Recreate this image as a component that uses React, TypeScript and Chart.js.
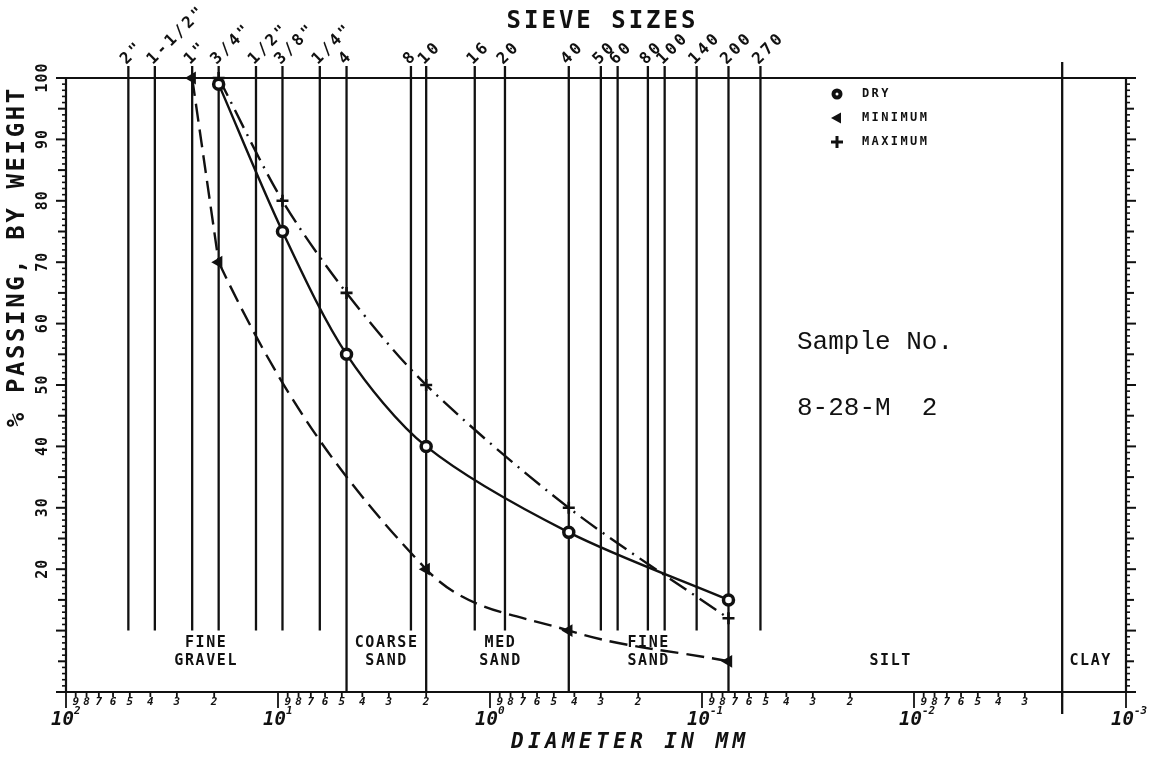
import React, { useEffect, useRef } from "react";
import { Chart, registerables } from "chart.js";

Chart.register(...registerables);

// ---------- data ----------
const sieveLabels = ['2"', '1-1/2"', '1"', '3/4"', '1/2"', '3/8"', '1/4"', "4", "8", "10", "16", "20", "40", "50", "60", "80", "100", "140", "200", "270"];
const sieveMm = [50.8, 38.1, 25.4, 19.05, 12.7, 9.525, 6.35, 4.75, 2.36, 2.0, 1.18, 0.85, 0.425, 0.3, 0.25, 0.18, 0.15, 0.106, 0.075, 0.053];
const boundaryMm = [4.75, 2.0, 0.425, 0.075];
const clayMm = 0.002;

const dryMm = [19.05, 9.525, 4.75, 2.0, 0.425, 0.075];
const dryPct = [99, 75, 55, 40, 26, 15];
const minMm = [25.4, 19.05, 2.0, 0.425, 0.075];
const minPct = [100, 70, 20, 10, 5];
const maxMm = [19.05, 9.525, 4.75, 2.0, 0.425, 0.075];
const maxPct = [100, 80, 65, 50, 30, 12];

const yTickLabels = [20, 30, 40, 50, 60, 70, 80, 90, 100];
const decadeExponents = [2, 1, 0, -1, -2, -3];
const zoneTop = ["FINE", "COARSE", "MED", "FINE", "", ""];
const zoneBottom = ["GRAVEL", "SAND", "SAND", "SAND", "SILT", "CLAY"];
const zoneAtMm = [22, 3.1, 0.9, 0.18, 0.013, 0.00148];
const legendNames = ["DRY", "MINIMUM", "MAXIMUM"];
const sampleLines = ["Sample No.", "8-28-M  2"];

const INK = "#111";
const MONO = '"DejaVu Sans Mono", monospace';
const MIN_DASH = [18, 8];
const MAX_DASH = [20, 7, 2, 7];

function txt(ctx: CanvasRenderingContext2D, s: string, x: number, y: number, font: string, align: CanvasTextAlign, spacing: number, rot = 0) {
  ctx.save();
  ctx.translate(x, y);
  if (rot) ctx.rotate(rot);
  ctx.font = font;
  (ctx as any).letterSpacing = spacing + "px";
  ctx.textAlign = "left";
  ctx.textBaseline = "middle";
  const w = ctx.measureText(s).width - spacing;
  let sx = 0;
  if (align === "center") sx = -w / 2;
  else if (align === "right") sx = -w;
  ctx.fillStyle = INK;
  ctx.fillText(s, sx, 0);
  ctx.restore();
}

function seg(ctx: CanvasRenderingContext2D, x1: number, y1: number, x2: number, y2: number) {
  ctx.beginPath();
  ctx.moveTo(x1, y1);
  ctx.lineTo(x2, y2);
  ctx.stroke();
}

const gradPlugin = {
  id: "gradPaper",
  beforeDatasetsDraw(chart: any) {
    const ctx: CanvasRenderingContext2D = chart.ctx;
    const xs = chart.scales.x;
    const ys = chart.scales.y;
    const { left, right, top, bottom } = chart.chartArea;
    ctx.save();
    ctx.strokeStyle = INK;
    ctx.lineCap = "butt";

    // frame
    ctx.lineWidth = 2.2;
    seg(ctx, left - 6, top, right, top);
    seg(ctx, left, top, left, bottom);
    seg(ctx, right, top, right, bottom);
    seg(ctx, left - 6, bottom, right + 8, bottom);

    // y ticks (outward)
    for (let v = 0; v <= 100; v++) {
      const y = ys.getPixelForValue(v);
      const len = v % 10 === 0 ? 10 : v % 5 === 0 ? 8 : 4;
      ctx.lineWidth = v % 5 === 0 ? 2 : 1.6;
      seg(ctx, left, y, left - len, y);
      seg(ctx, right, y, right + len, y);
    }

    // sieve lines
    ctx.lineWidth = 2.3;
    const y10 = ys.getPixelForValue(10);
    sieveMm.forEach((d) => {
      const x = xs.getPixelForValue(d);
      const full = boundaryMm.indexOf(d) >= 0;
      seg(ctx, x, top - 12, x, full ? bottom : y10);
    });
    const xc = xs.getPixelForValue(clayMm);
    seg(ctx, xc, top - 16, xc, bottom + 22);

    // bottom axis ticks
    ctx.lineWidth = 1.8;
    for (let k = 1; k >= -3; k--) {
      for (let m = 1; m <= 9; m++) {
        const v = m * Math.pow(10, k);
        if (v < clayMm - 1e-9 && m !== 1) continue;
        const x = xs.getPixelForValue(v);
        seg(ctx, x, bottom, x, bottom + (m === 1 ? 16 : 5));
      }
    }
    const x100 = xs.getPixelForValue(100);
    seg(ctx, x100, bottom, x100, bottom + 16);
    ctx.restore();
  },
  afterDatasetsDraw(chart: any) {
    const ctx: CanvasRenderingContext2D = chart.ctx;
    const xs = chart.scales.x;
    const ys = chart.scales.y;
    const { top, bottom } = chart.chartArea;
    ctx.save();

    // title
    txt(ctx, "SIEVE SIZES", 601, 22, `bold 24px ${MONO}`, "center", 3);

    // sieve labels rotated
    sieveMm.forEach((d, i) => {
      const x = xs.getPixelForValue(d);
      txt(ctx, sieveLabels[i], x - 5, top - 16, `bold 16px ${MONO}`, "left", 3, -Math.PI / 4);
    });

    // y tick labels
    yTickLabels.forEach((v) => {
      const y = ys.getPixelForValue(v);
      txt(ctx, String(v), 43, y, `bold 15px ${MONO}`, "center", 1, -Math.PI / 2);
    });
    txt(ctx, "% PASSING, BY WEIGHT", 18, 258, `bold 24px ${MONO}`, "center", 2.6, -Math.PI / 2);

    // bottom digit labels
    for (let k = 1; k >= -3; k--) {
      for (let m = 2; m <= 9; m++) {
        const v = m * Math.pow(10, k);
        if (v <= clayMm + 1e-9) continue;
        const x = xs.getPixelForValue(v);
        txt(ctx, String(m), x, bottom + 10, `italic bold 11px ${MONO}`, "center", 0);
      }
    }
    // decade labels
    decadeExponents.forEach((e) => {
      const x = xs.getPixelForValue(Math.pow(10, e));
      txt(ctx, "10", x + 8, bottom + 28, `italic bold 19px ${MONO}`, "right", 0);
      txt(ctx, String(e), x + 8, bottom + 19, `italic bold 11px ${MONO}`, "left", 0);
    });
    txt(ctx, "DIAMETER IN MM", 628, 743, `italic bold 21px ${MONO}`, "center", 4.4);

    // zone labels
    zoneAtMm.forEach((d, i) => {
      const x = xs.getPixelForValue(d);
      if (zoneTop[i]) txt(ctx, zoneTop[i], x, 643, `bold 15px ${MONO}`, "center", 1.6);
      txt(ctx, zoneBottom[i], x, 661, `bold 15px ${MONO}`, "center", 1.6);
    });

    // legend
    const lx = 837;
    const ly = [94, 118, 142];
    ctx.fillStyle = INK;
    ctx.strokeStyle = INK;
    ctx.beginPath();
    ctx.arc(lx, ly[0], 5.5, 0, Math.PI * 2);
    ctx.fill();
    ctx.fillStyle = "#fff";
    ctx.beginPath();
    ctx.arc(lx, ly[0], 1.5, 0, Math.PI * 2);
    ctx.fill();
    ctx.fillStyle = INK;
    ctx.beginPath();
    ctx.moveTo(lx - 6, ly[1]);
    ctx.lineTo(lx + 4, ly[1] - 5.5);
    ctx.lineTo(lx + 4, ly[1] + 5.5);
    ctx.closePath();
    ctx.fill();
    ctx.lineWidth = 3;
    seg(ctx, lx - 6, ly[2], lx + 6, ly[2]);
    seg(ctx, lx, ly[2] - 6, lx, ly[2] + 6);
    legendNames.forEach((n, i) => {
      txt(ctx, n, 862, ly[i], `bold 12px ${MONO}`, "left", 2.4);
    });

    // sample text
    txt(ctx, sampleLines[0], 797, 342, `26px "Liberation Mono", monospace`, "left", 0);
    txt(ctx, sampleLines[1], 797, 408, `26px "Liberation Mono", monospace`, "left", 0);

    ctx.restore();
  },
};

export default function App() {
  const ref = useRef<HTMLCanvasElement | null>(null);
  useEffect(() => {
    if (!ref.current) return;
    const pts = (xsArr: number[], ysArr: number[]) => xsArr.map((x, i) => ({ x, y: ysArr[i] }));
    const chart = new Chart(ref.current, {
      type: "line",
      data: {
        datasets: [
          {
            label: "DRY",
            data: pts(dryMm, dryPct),
            borderColor: INK,
            borderWidth: 2.4,
            tension: 0.3,
            pointStyle: "circle",
            pointRadius: 5,
            pointBorderWidth: 3.5,
            pointBackgroundColor: "#fff",
            pointBorderColor: INK,
            clip: false,
          } as any,
          {
            label: "MINIMUM",
            data: pts(minMm, minPct),
            borderColor: INK,
            borderWidth: 2.4,
            borderDash: MIN_DASH,
            tension: 0.38,
            segment: { borderColor: (c: any) => (c.p0DataIndex === 0 ? "rgba(0,0,0,0)" : undefined) },
            pointStyle: "triangle",
            pointRotation: -90,
            pointRadius: 5,
            pointBackgroundColor: INK,
            pointBorderColor: INK,
            clip: false,
          } as any,
          {
            label: "MINIMUM (upper)",
            data: pts(minMm.slice(0, 2), minPct.slice(0, 2)),
            borderColor: INK,
            borderWidth: 2.4,
            borderDash: MIN_DASH,
            tension: 0,
            pointRadius: 0,
            clip: false,
          } as any,
          {
            label: "MAXIMUM",
            data: pts(maxMm, maxPct),
            borderColor: INK,
            borderWidth: 2.4,
            borderDash: MAX_DASH,
            tension: 0.3,
            pointStyle: "cross",
            pointRadius: 6,
            pointBorderWidth: 2.6,
            pointBackgroundColor: INK,
            pointBorderColor: INK,
            clip: false,
          } as any,
        ],
      },
      options: {
        responsive: false,
        animation: false,
        events: [],
        layout: { padding: { left: 66, right: 1158 - 1126, top: 78, bottom: 761 - 692 } },
        scales: {
          x: { type: "logarithmic", min: 0.001, max: 100, reverse: true, display: false },
          y: { type: "linear", min: 0, max: 100, display: false },
        },
        plugins: { legend: { display: false }, tooltip: { enabled: false } },
      },
      plugins: [gradPlugin],
    });
    return () => chart.destroy();
  }, []);
  return (
    <div style={{ position: "absolute", left: 0, top: 0, width: 1158, height: 761, background: "#fff" }}>
      <canvas ref={ref} width={1158} height={761} style={{ display: "block" }} />
    </div>
  );
}
